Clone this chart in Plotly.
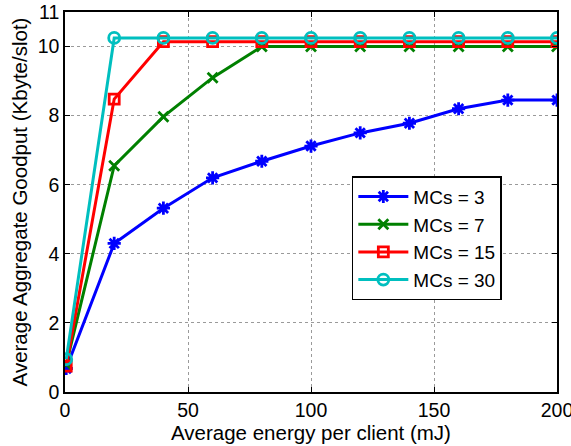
import plotly.graph_objects as go

energy = [0.5, 20, 40, 60, 80, 100, 120, 140, 160, 180, 200]
mcs3 = [0.68, 4.3, 5.32, 6.2, 6.68, 7.12, 7.5, 7.78, 8.2, 8.45, 8.45]
mcs7 = [0.8, 6.55, 7.97, 9.1, 10.0, 10.0, 10.0, 10.0, 10.0, 10.0, 10.0]
mcs15 = [0.75, 8.48, 10.14, 10.14, 10.14, 10.14, 10.14, 10.14, 10.14, 10.14, 10.14]
mcs30 = [0.95, 10.25, 10.25, 10.25, 10.25, 10.25, 10.25, 10.25, 10.25, 10.25, 10.25]
names = ["MCs = 3", "MCs = 7", "MCs = 15", "MCs = 30"]
colors = ["#0000ff", "#008000", "#ff0000", "#00bfbf"]
symbols = ["asterisk-open", "x-thin-open", "square-open", "circle-open"]
sizes = [11, 10, 10, 11]

fig = go.Figure()
for ys, nm, c, s, sz in zip([mcs3, mcs7, mcs15, mcs30], names, colors, symbols, sizes):
    fig.add_trace(go.Scatter(
        x=energy, y=ys, name=nm, mode="lines+markers",
        line=dict(color=c, width=3),
        marker=dict(symbol=s, size=sz, color=c, line=dict(color=c, width=2.8)),
    ))

axis_common = dict(
    showline=True, linecolor="black", linewidth=1.5, mirror="ticks",
    ticks="inside", ticklen=5, tickcolor="black",
    showgrid=True, gridcolor="#9a9a9a", griddash="dot", gridwidth=1,
    zeroline=False, tickfont=dict(size=19.5, color="black"),
    automargin=False, ticklabeloverflow="allow",
)
fig.update_xaxes(range=[0, 200], tickvals=[0, 50, 100, 150, 200],
                 title=dict(text="Average energy per client (mJ)", font=dict(size=20.5, color="black"), standoff=2),
                 **axis_common)
fig.update_yaxes(range=[0, 11], tickvals=[0, 2, 4, 6, 8, 10, 11],
                 title=dict(text="Average Aggregate Goodput (Kbyte/slot)", font=dict(size=20.5, color="black"), standoff=4),
                 **axis_common)
fig.update_layout(
    width=571, height=446,
    margin=dict(l=65, r=14, t=12, b=54),
    paper_bgcolor="white", plot_bgcolor="white",
    font=dict(family="Liberation Sans, Arial, sans-serif", color="black"),
    legend=dict(x=0.583, y=0.568, xanchor="left", yanchor="top",
                bgcolor="white", bordercolor="black", borderwidth=1.5,
                font=dict(size=19), itemwidth=50, tracegroupgap=0),
)
fig.write_html("out.html")
